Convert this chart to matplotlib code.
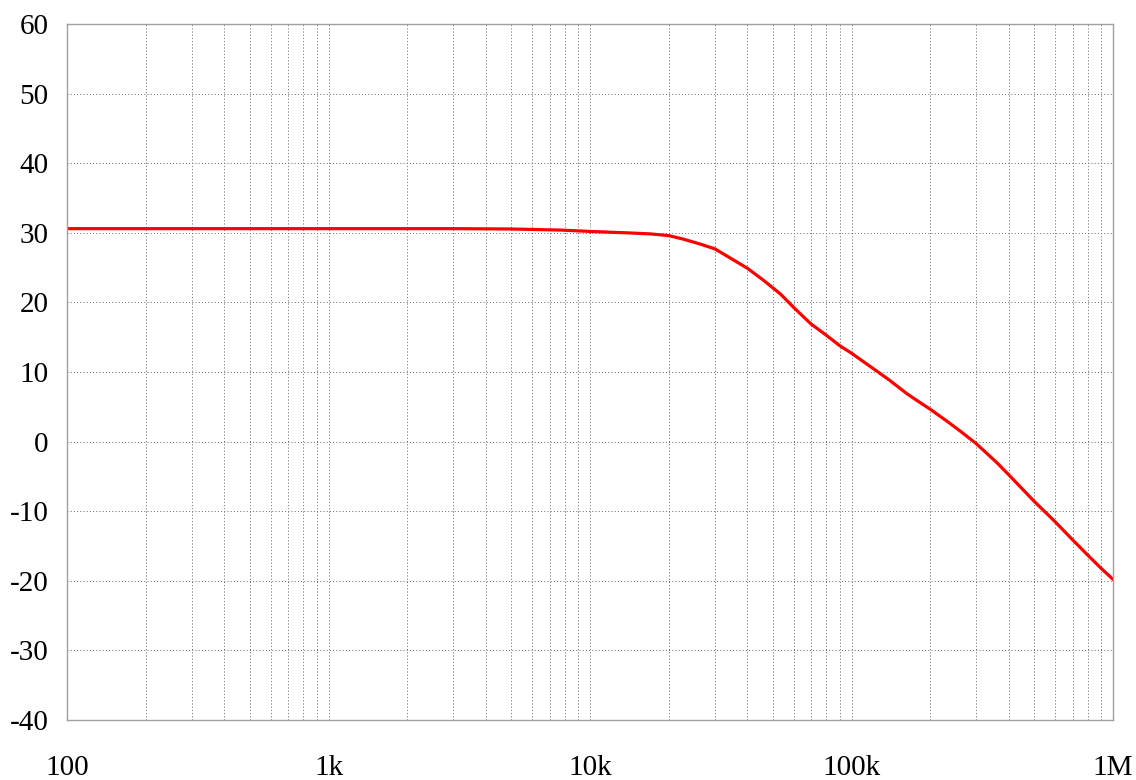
import matplotlib.pyplot as plt
from matplotlib.ticker import FixedLocator, LogLocator, NullFormatter

# Frequenzgang (Betrag in dB) über der Frequenz in Hz
freq = [100, 1000, 3000, 5000, 7680, 10000, 13800, 16960, 20000, 22700,
        26300, 30000, 34300, 40000, 46000, 53500, 60000, 70000, 80000,
        90000, 100000, 121000, 140000, 162600, 183000, 200000, 231000,
        260000, 300000, 359000, 400000, 500000, 600000, 700000, 800000,
        900000, 1000000]
gain = [30.6, 30.6, 30.6, 30.55, 30.4, 30.2, 30.0, 29.85, 29.6, 29.1,
        28.4, 27.7, 26.4, 24.9, 23.2, 21.2, 19.3, 16.9, 15.3,
        13.8, 12.7, 10.5, 8.8, 6.9, 5.6, 4.65, 2.97,
        1.53, -0.3, -3.0, -4.8, -8.6, -11.5, -14.1, -16.3,
        -18.2, -19.8]

x_ticks = [100, 1000, 10000, 100000, 1000000]
x_labels = ["100", "1k", "10k", "100k", "1M"]
y_ticks = [-40, -30, -20, -10, 0, 10, 20, 30, 40, 50, 60]
y_labels = [str(v) for v in y_ticks]

plt.rcParams["font.family"] = ["Liberation Serif", "DejaVu Serif"]

fig = plt.figure(figsize=(11.36, 7.8), dpi=100)
ax = fig.add_axes([0.059, 0.0769, 0.9208, 0.8923])

ax.plot(freq, gain, color="#ff0000", linewidth=2.3, solid_joinstyle="round")

ax.set_xscale("log")
ax.set_xlim(100, 1000000)
ax.set_ylim(-40, 60)

ax.xaxis.set_major_locator(FixedLocator(x_ticks))
ax.xaxis.set_minor_locator(LogLocator(base=10, subs=range(2, 10)))
ax.xaxis.set_minor_formatter(NullFormatter())
ax.set_xticks(x_ticks)
ax.set_xticklabels(x_labels)
ax.set_yticks(y_ticks)
ax.set_yticklabels(y_labels)

ax.tick_params(axis="both", which="both", length=0, labelsize=21)
ax.tick_params(axis="x", pad=25)
ax.tick_params(axis="y", pad=13.5)

grid_style = dict(color="#707070", linewidth=0.72, dashes=(1, 2.2))
ax.grid(True, which="major", axis="both", **grid_style)
ax.grid(True, which="minor", axis="x", **grid_style)

for spine in ax.spines.values():
    spine.set_color("#a0a0a0")
    spine.set_linewidth(1.0)

fig.savefig("out.png", dpi=100)
